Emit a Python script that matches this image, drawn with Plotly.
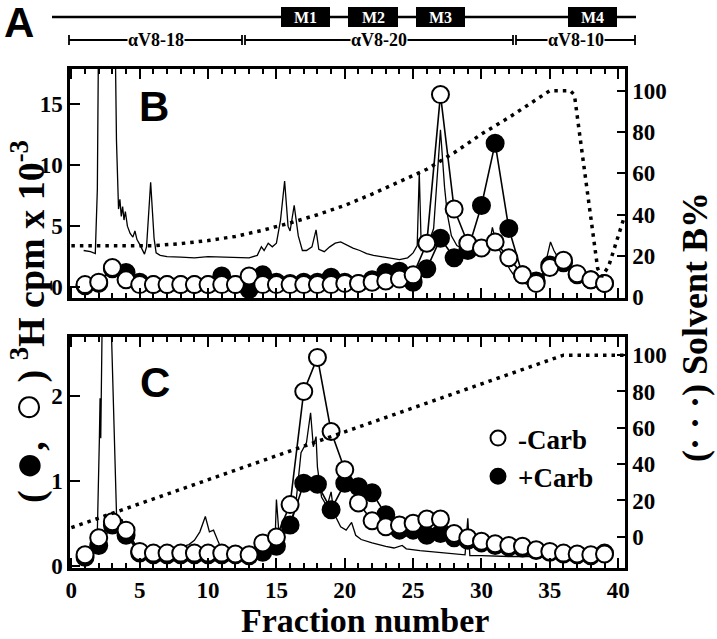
import plotly.graph_objects as go

W, H = 717, 639

# ---------------- data ----------------
fractions = list(range(1, 40))

# Panel B : 3H cpm x 10^-3
b_minus_carb = [0.2, 0.4, 1.6, 0.6, 0.2, 0.2, 0.2, 0.2, 0.2, 0.2,
                0.2, 0.2, 0.9, 0.2, 0.2, 0.2, 0.2, 0.2, 0.2, 0.3,
                0.3, 0.4, 0.5, 0.65, 1.0, 3.6, 15.8, 6.4, 3.6, 3.2,
                3.7, 2.4, 1.0, 0.3, 1.6, 2.2, 1.1, 0.6, 0.3]
b_plus_carb = [0.1, 0.3, 1.5, 1.2, 0.4, 0.2, 0.2, 0.2, 0.2, 0.2,
               0.9, 0.2, -0.2, 1.0, 0.4, 0.3, 0.4, 0.4, 0.8, 0.4,
               0.3, 0.6, 1.2, 1.3, 0.4, 1.5, 4.0, 2.4, 3.0, 6.7,
               11.8, 4.8, 1.0, 0.5, 1.8, 2.0, 1.0, 0.6, 0.3]

# Panel B : absorbance trace (drawn on the cpm scale)
b_trace_x = [0.9, 1.4, 1.75, 1.9, 2.05, 3.1, 3.3, 3.45, 3.55, 3.65, 3.75, 3.85, 3.95,
             4.1, 4.3, 4.5, 4.65, 4.8, 5.0, 5.2, 5.35, 5.5, 5.8, 6.05, 6.2, 6.5, 7, 8,
             9, 10, 11, 12, 13, 13.6, 13.9, 14.1, 14.4, 14.7, 15.0, 15.3, 15.6, 15.85,
             16.0, 16.3, 16.6, 16.9, 17.2, 17.6, 17.9, 18.1, 18.5, 18.9, 19.3, 19.7,
             20.2, 20.6, 21.1, 21.6, 22.1, 23.1, 24.0, 24.6, 25.0, 25.3, 25.45, 25.6,
             26.0, 26.5, 27.0, 27.3, 27.5, 27.8, 28.2, 28.7, 29.5, 30.2, 30.5, 30.8,
             31.1, 31.6, 32.1, 32.6, 33.3, 34.0, 34.5, 34.8, 35.05, 35.3, 35.7, 36.2]
b_trace_y = [3.0, 2.9, 2.75, 8, 30, 30, 12, 6.4, 7.2, 5.8, 6.6, 5.5, 6.2,
             5.0, 4.4, 4.1, 4.6, 3.9, 3.5, 3.0, 2.7, 3.3, 8.6, 4.0, 2.8, 2.6, 2.5, 2.45,
             2.4, 2.5, 2.45, 2.45, 2.4, 2.6, 3.3, 3.0, 3.6, 3.3, 3.6, 5.5, 8.7, 5.0,
             4.6, 6.7, 4.2, 3.0, 3.0, 3.3, 4.7, 3.1, 2.9, 3.3, 3.6, 3.7,
             3.4, 3.2, 3.0, 2.75, 2.6, 2.4, 2.25, 2.4, 2.8, 3.4, 9.4, 3.0,
             3.2, 4.8, 12.9, 8.2, 6.0, 4.2, 3.4, 3.1, 3.2, 3.3, 3.0, 4.9,
             3.5, 2.4, 1.4, 0.6, 0.25, 0.2, 0.3, 2.5, 3.7, 3.0, 2.2, 1.6]

# Panel B : solvent B gradient (%)
b_grad_x = [0, 6, 8, 10, 12, 14, 16, 18, 20, 22, 24, 26, 28, 30, 32, 34, 35,
            36.5, 36.8, 37.2, 37.7, 38.2, 38.5, 38.8, 39.3, 40.5]
b_grad_y = [25, 25, 26, 27.5, 29.5, 32.5, 36, 40, 44.5, 50, 56, 62, 70, 79, 87, 96, 100,
            100, 98, 78, 54, 28, 14, 10, 15, 40]

# Panel C : 3H cpm x 10^-3
c_minus_carb = [0.13, 0.33, 0.52, 0.42, 0.17, 0.15, 0.15, 0.15, 0.15, 0.15,
                0.15, 0.14, 0.13, 0.27, 0.34, 0.72, 2.05, 2.45, 1.58, 1.13,
                0.74, 0.53, 0.46, 0.48, 0.50, 0.55, 0.55, 0.38, 0.33, 0.29,
                0.26, 0.24, 0.23, 0.19, 0.17, 0.15, 0.14, 0.13, 0.14]
c_plus_carb = [0.10, 0.24, 0.48, 0.36, 0.15, 0.13, 0.13, 0.13, 0.13, 0.13,
               0.13, 0.13, 0.12, 0.16, 0.23, 0.48, 0.97, 0.96, 0.66, 0.97,
               0.93, 0.86, 0.60, 0.42, 0.42, 0.36, 0.38, 0.33, 0.30, 0.27,
               0.24, 0.22, 0.21, 0.18, 0.16, 0.14, 0.13, 0.12, 0.15]

# Panel C : absorbance trace
c_trace_x = [1.7, 1.9, 2.05, 2.1, 2.15, 2.3, 2.8, 3.3, 3.5, 3.7, 3.9, 4.1, 4.4, 5, 6, 7,
             8, 8.6, 9.0, 9.4, 9.8, 10.1, 10.4, 10.7, 11.0, 12, 13, 14, 14.6, 14.9, 15.0,
             15.2, 15.6, 16.1, 16.4, 16.8, 17.0, 17.2, 17.5, 17.7, 17.9, 18.0, 18.3,
             18.7, 19.0, 19.2, 19.7, 20.1, 20.5, 20.8, 21.2, 22, 23, 23.6, 24.2, 24.5,
             25.5, 27, 28, 28.8, 29.0, 29.15, 30, 32, 34, 36, 38, 39.6]
c_trace_y = [0.15, 0.4, 1.5, 1.97, 1.5, 3.5, 3.5, 0.62, 0.5, 0.55, 0.45, 0.38, 0.28, 0.2, 0.19, 0.2,
             0.22, 0.25, 0.3, 0.4, 0.58, 0.4, 0.42, 0.3, 0.19, 0.17, 0.16, 0.17, 0.2, 0.3, 0.78,
             0.35, 0.45, 0.54, 0.7, 1.33, 1.4, 1.45, 1.8, 1.4, 1.52, 1.16, 0.81,
             0.7, 0.87, 0.62, 0.46, 0.42, 0.51, 0.36, 0.31, 0.27, 0.23, 0.21, 0.24, 0.2,
             0.18, 0.16, 0.14, 0.13, 0.56, 0.12, 0.12, 0.11, 0.11, 0.1, 0.1, 0.1]

# Panel C : solvent B gradient (%)
c_grad_x = [0, 36, 40.5]
c_grad_y = [5, 100, 100]

x_ticks = [0, 5, 10, 15, 20, 25, 30, 35, 40]
b_left_ticks = [0, 5, 10, 15]
c_left_ticks = [0, 1, 2]
right_ticks = [0, 20, 40, 60, 80, 100]

# Panel A schematic (pixel units of the schematic strip)
segments = [("M1", 281, 330), ("M2", 348, 398), ("M3", 416, 465), ("M4", 568, 617)]
fragments = [("αV8-18", 69, 242), ("αV8-20", 245, 513), ("αV8-10", 516, 635)]
schematic_line = (52, 636)

# ---------------- layout geometry (pixels) ----------------
PL, PR = 70, 625
B_TOP, B_BOT = 69, 298
C_TOP, C_BOT = 337, 568

def xd(a, b):
    return [a / W, b / W]

def yd(top, bot):
    return [1 - bot / H, 1 - top / H]

SERIF = "Liberation Serif"
tickfont = dict(family=SERIF, size=23, color="black", weight="bold")

fig = go.Figure()

def panel_traces(xa, yl, yr, tx, ty, gx, gy, plus, minus):
    fig.add_trace(go.Scatter(x=tx, y=ty, mode="lines", xaxis=xa, yaxis=yl,
                             line=dict(color="black", width=1.3), showlegend=False))
    fig.add_trace(go.Scatter(x=gx, y=gy, mode="lines", xaxis=xa, yaxis=yr,
                             line=dict(color="black", width=3.5, dash="3.5px,5px"),
                             showlegend=False))
    fig.add_trace(go.Scatter(x=fractions, y=plus, mode="lines+markers", xaxis=xa, yaxis=yl,
                             line=dict(color="black", width=1.6),
                             marker=dict(size=17, color="black", line=dict(color="black", width=2)),
                             showlegend=False, cliponaxis=False))
    fig.add_trace(go.Scatter(x=fractions, y=minus, mode="lines+markers", xaxis=xa, yaxis=yl,
                             line=dict(color="black", width=1.6),
                             marker=dict(size=17, color="white", line=dict(color="black", width=2)),
                             showlegend=False, cliponaxis=False))

panel_traces("x", "y", "y2", b_trace_x, b_trace_y, b_grad_x, b_grad_y, b_plus_carb, b_minus_carb)
panel_traces("x2", "y3", "y4", c_trace_x, c_trace_y, c_grad_x, c_grad_y, c_plus_carb, c_minus_carb)

# legend entries (marker only)
fig.add_trace(go.Scatter(x=[None], y=[None], mode="markers", xaxis="x2", yaxis="y3",
                         name="-Carb",
                         marker=dict(size=15, color="white", line=dict(color="black", width=2))))
fig.add_trace(go.Scatter(x=[None], y=[None], mode="markers", xaxis="x2", yaxis="y3",
                         name="+Carb",
                         marker=dict(size=15, color="black", line=dict(color="black", width=2))))

xcommon = dict(range=[-0.1, 40.5], tickmode="array", tickvals=x_ticks, ticks="inside",
               ticklen=10, tickwidth=2, tickcolor="black", showline=True, linewidth=2.5,
               linecolor="black", mirror="ticks", showgrid=False, zeroline=False,
               minor=dict(dtick=1, tick0=0, ticks="inside", ticklen=5, tickwidth=1.5,
                          tickcolor="black"),
               tickfont=tickfont, domain=xd(PL, PR), automargin=False)
yleft = dict(ticks="inside", ticklen=10, tickwidth=2, tickcolor="black", showline=True,
             linewidth=2.5, linecolor="black", showgrid=False, zeroline=False,
             tickfont=tickfont, tickmode="array", automargin=False)
yright = dict(ticks="inside", ticklen=8, tickwidth=2, tickcolor="black", showline=True,
              linewidth=2.5, linecolor="black", showgrid=False, zeroline=False,
              tickfont=tickfont, tickmode="array", tickvals=right_ticks, side="right",
              automargin=False)

fig.update_layout(
    width=W, height=H, autosize=False, margin=dict(l=0, r=0, t=0, b=0, pad=0),
    paper_bgcolor="white", plot_bgcolor="rgba(0,0,0,0)",
    xaxis=dict(xcommon, anchor="y", showticklabels=False),
    yaxis=dict(yleft, range=[-0.9, 17.9], tickvals=b_left_ticks, domain=yd(B_TOP, B_BOT), anchor="x"),
    yaxis2=dict(yright, range=[-0.3, 110.5], overlaying="y", anchor="x"),
    xaxis2=dict(xcommon, anchor="y3", showticklabels=True),
    yaxis3=dict(yleft, range=[-0.025, 2.69], tickvals=c_left_ticks, domain=yd(C_TOP, C_BOT), anchor="x2"),
    yaxis4=dict(yright, range=[-17.2, 110], overlaying="y3", anchor="x2"),
    xaxis3=dict(domain=[0, 1], range=[0, W], visible=False, anchor="y5", fixedrange=True,
                automargin=False),
    yaxis5=dict(domain=[1 - 60 / H, 1], range=[60, 0], visible=False, anchor="x3",
                fixedrange=True, automargin=False),
    legend=dict(x=478 / W, y=1 - 414 / H, xanchor="left", yanchor="top",
                font=dict(family=SERIF, size=27, color="black", weight="bold"),
                bgcolor="rgba(0,0,0,0)", itemwidth=30, tracegroupgap=0),
    showlegend=True,
)

# ---- schematic (panel A) ----
shapes = []
LINE_Y, BOX_T, BOX_B, BR_Y = 17, 7, 27, 40
shapes.append(dict(type="line", xref="x3", yref="y5", x0=schematic_line[0], x1=schematic_line[1],
                   y0=LINE_Y, y1=LINE_Y, line=dict(color="black", width=2.5)))
annotations = []
for name, a, b in segments:
    shapes.append(dict(type="rect", xref="x3", yref="y5", x0=a, x1=b, y0=BOX_T, y1=BOX_B,
                       fillcolor="black", line=dict(color="black", width=0)))
    annotations.append(dict(xref="x3", yref="y5", x=(a + b) / 2, y=(BOX_T + BOX_B) / 2,
                            text=name, showarrow=False, xanchor="center", yanchor="middle",
                            font=dict(family=SERIF, size=16, color="white", weight="bold")))
for name, a, b in fragments:
    shapes.append(dict(type="line", xref="x3", yref="y5", x0=a, x1=b, y0=BR_Y, y1=BR_Y,
                       line=dict(color="black", width=1.8)))
    for xe in (a, b):
        shapes.append(dict(type="line", xref="x3", yref="y5", x0=xe, x1=xe, y0=BR_Y - 5,
                           y1=BR_Y + 5, line=dict(color="black", width=1.8)))
    annotations.append(dict(xref="x3", yref="y5", x=(a + b) / 2, y=BR_Y, text=name,
                            showarrow=False, bgcolor="white", borderpad=0,
                            xanchor="center", yanchor="middle",
                            font=dict(family=SERIF, size=18, color="black", weight="bold")))

def P(px, py):
    return px / W, 1 - py / H

def label(px, py, text, font, angle=0):
    x, y = P(px, py)
    annotations.append(dict(xref="paper", yref="paper", x=x, y=y, text=text, showarrow=False,
                            xanchor="center", yanchor="middle", textangle=angle, font=font))

NB = "\u00a0"
label(19, 22, "A", dict(family="Liberation Sans Narrow, Liberation Sans", size=42,
                        color="black", weight="bold"))
label(154, 107, "B", dict(family="Liberation Sans", size=42, color="black", weight="bold"))
label(155, 382, "C", dict(family="Liberation Sans", size=42, color="black", weight="bold"))
label(365, 620, "Fraction number", dict(family=SERIF, size=34, color="black", weight="bold"))
label(27, 322,
      "(" + NB + "<span style='font-size:50px'>●</span>," + NB + NB
      + "<span style='font-size:50px'>○</span>" + NB + ")" + NB
      + "<sup>3</sup>H cpm x 10<sup>-3</sup>",
      dict(family=SERIF, size=38, color="black", weight="bold"), angle=-90)
label(695, 327, "(·" + NB + "·" + NB + "·) Solvent B%",
      dict(family=SERIF, size=36, color="black", weight="bold"), angle=-90)

fig.update_layout(shapes=shapes, annotations=annotations)
fig.write_html("out.html", config={"displayModeBar": False},
               post_script="document.body.style.margin='0px';")
